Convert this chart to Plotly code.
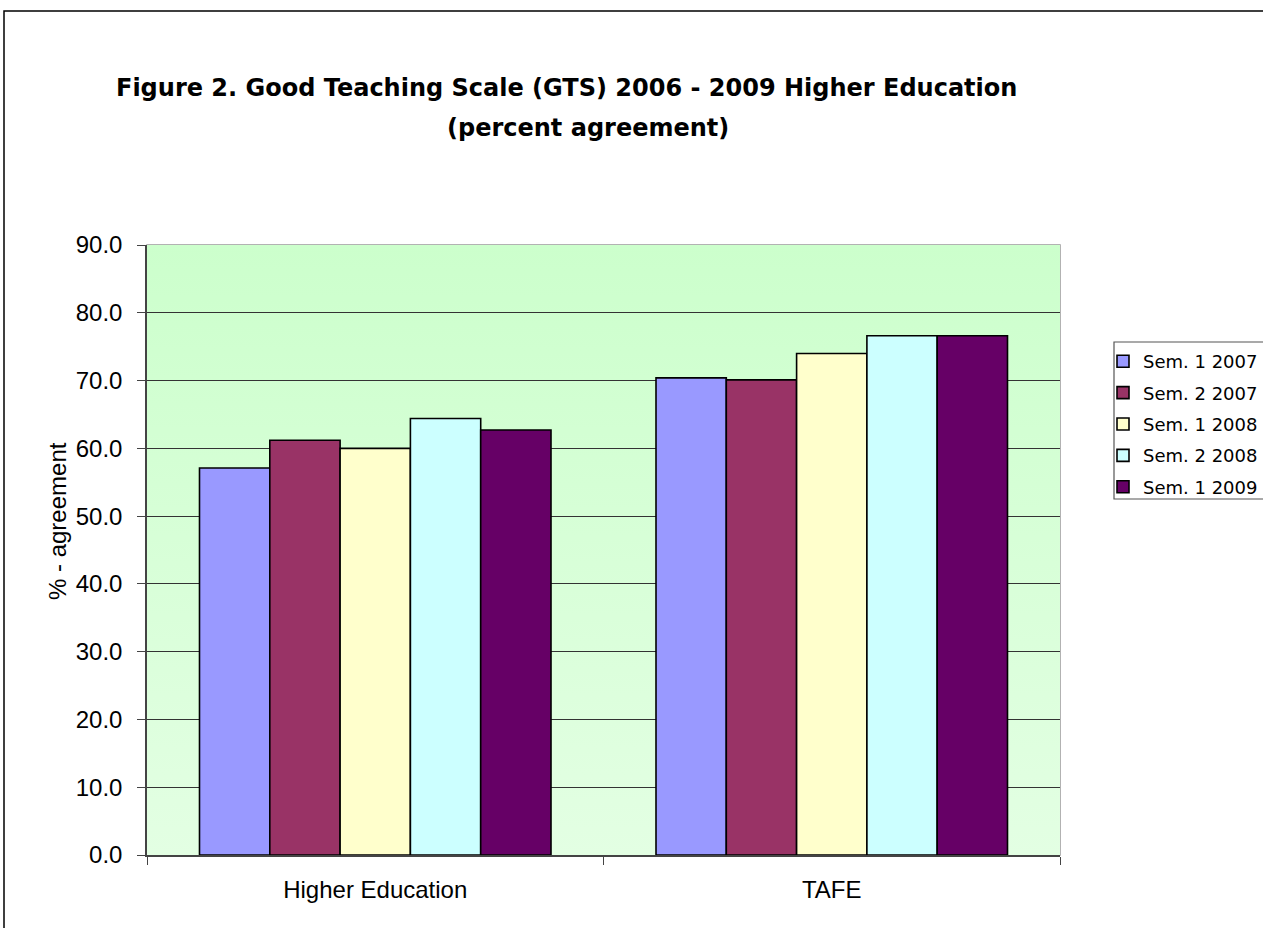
import plotly.graph_objects as go

# Percent agreement on the Good Teaching Scale, by sector and semester
categories = ["Higher Education", "TAFE"]
series_names = ["Sem. 1 2007", "Sem. 2 2007", "Sem. 1 2008", "Sem. 2 2008", "Sem. 1 2009"]
series_values = [
    [57.1, 70.4],
    [61.2, 70.1],
    [60.0, 74.0],
    [64.4, 76.6],
    [62.7, 76.6],
]
series_colors = ["#9999FF", "#993366", "#FFFFCC", "#CCFFFF", "#660066"]
y_ticks = [0, 10, 20, 30, 40, 50, 60, 70, 80, 90]

W, H = 1263, 928
L, R, T, B = 147, 1060, 245, 855  # plot area in pixels
pw, ph = R - L, B - T


def px_x(x):
    return (x - L) / pw


def px_y(y):
    return (B - y) / ph


fig = go.Figure()
for name, vals, col in zip(series_names, series_values, series_colors):
    fig.add_trace(go.Bar(
        name=name, x=categories, y=vals, legendgroup=name,
        marker=dict(color=col, line=dict(color="#000000", width=1.6)),
    ))

# soft vertical green gradient behind the plot area
gradient_svg = (
    "data:image/svg+xml;utf8,"
    "<svg xmlns='http://www.w3.org/2000/svg' width='100' height='100' preserveAspectRatio='none'>"
    "<defs><linearGradient id='g' x1='0' y1='0' x2='0' y2='1'>"
    "<stop offset='0' stop-color='%23CCFFCC'/>"
    "<stop offset='1' stop-color='%23E3FFE3'/>"
    "</linearGradient></defs>"
    "<rect width='100' height='100' fill='url(%23g)'/></svg>"
)

title_font = dict(family="DejaVu Sans, sans-serif", size=24, color="#000000")

fig.update_layout(
    width=W, height=H,
    margin=dict(l=L, r=W - R, t=T, b=H - B),
    paper_bgcolor="white",
    plot_bgcolor="rgba(0,0,0,0)",
    barmode="group",
    bargap=0.23,
    bargroupgap=0,
    showlegend=True,
    font=dict(family="Liberation Sans, Arial, sans-serif", size=24, color="#000000"),
    images=[dict(
        source=gradient_svg, xref="x domain", yref="y domain",
        x=0, y=1, sizex=1, sizey=1, sizing="stretch",
        xanchor="left", yanchor="top", layer="below",
    )],
    legend=dict(
        xref="container", yref="container",
        x=1103 / W, y=1 - 343 / H, xanchor="left", yanchor="top",
        bgcolor="rgba(0,0,0,0)", borderwidth=0,
        font=dict(family="DejaVu Sans, sans-serif", size=18, color="#000000"),
        tracegroupgap=5, itemwidth=30,
    ),
    annotations=[
        dict(
            text="<b>Figure 2. Good Teaching Scale (GTS) 2006 - 2009 Higher Education</b>",
            xref="paper", yref="paper", x=px_x(566), y=px_y(88),
            xanchor="center", yanchor="middle", showarrow=False, font=title_font,
        ),
        dict(
            text="<b>(percent agreement)</b>",
            xref="paper", yref="paper", x=px_x(588), y=px_y(128),
            xanchor="center", yanchor="middle", showarrow=False, font=title_font,
        ),
        dict(
            text="% - agreement", textangle=-90,
            xref="paper", yref="paper", x=px_x(57), y=px_y(521),
            xanchor="center", yanchor="middle", showarrow=False,
            font=dict(family="Liberation Sans, Arial, sans-serif", size=24, color="#000000"),
        ),
    ],
    shapes=[
        # outer chart frame
        dict(type="rect", xref="paper", yref="paper",
             x0=px_x(4), y0=px_y(H + 20), x1=px_x(W + 20), y1=px_y(11),
             line=dict(color="#000000", width=1.5), fillcolor="rgba(0,0,0,0)", layer="below"),
        # legend frame
        dict(type="rect", xref="paper", yref="paper",
             x0=px_x(1114), y0=px_y(499), x1=px_x(W + 20), y1=px_y(342),
             line=dict(color="#555555", width=1.2), fillcolor="white", layer="below"),
        # plot area border
        dict(type="rect", xref="x domain", yref="y domain", x0=0, y0=0, x1=1, y1=1,
             line=dict(color="#999999", width=1.5), fillcolor="rgba(0,0,0,0)", layer="below"),
    ],
)

fig.update_yaxes(
    range=[0, 90], tickvals=y_ticks, tickformat=".1f",
    showgrid=True, gridcolor="#333333", gridwidth=1,
    showline=True, linecolor="#444444", linewidth=1.5,
    ticks="outside", ticklen=8, tickcolor="#444444", ticklabelstandoff=10,
    zeroline=False, fixedrange=True,
    tickfont=dict(size=24),
)
fig.update_xaxes(
    showgrid=False, showline=True, linecolor="#444444", linewidth=1.5,
    ticks="outside", ticklen=8, tickcolor="#444444", tickson="boundaries",
    ticklabelstandoff=12,
    tickfont=dict(size=24), fixedrange=True,
)

fig.write_html("out.html")
